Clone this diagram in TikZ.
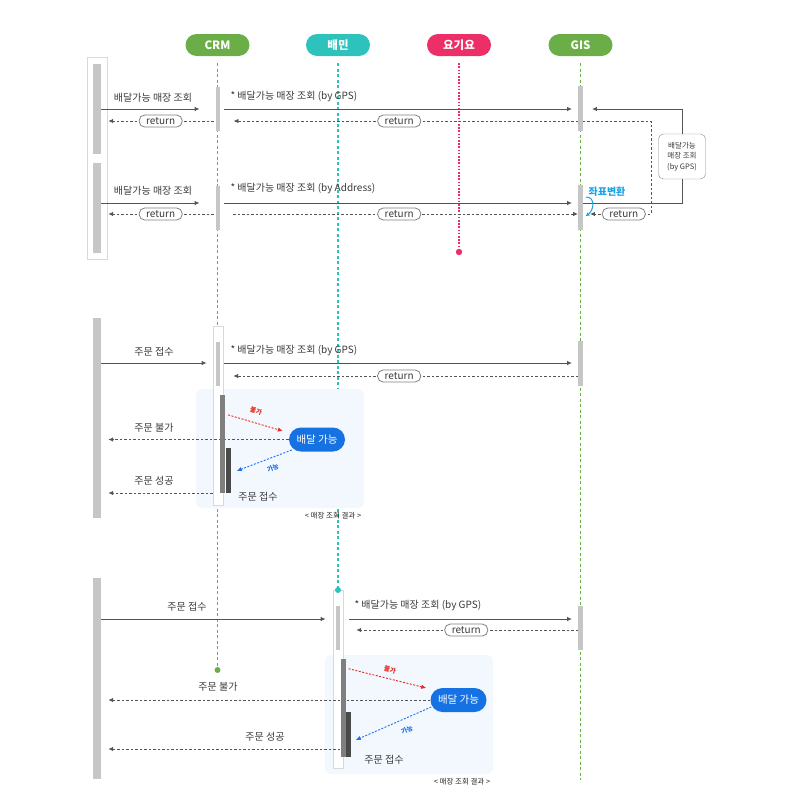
\documentclass[tikz,border=0pt]{standalone}
\usepackage{fontspec}
\setmainfont{Noto Sans CJK KR}
\usetikzlibrary{arrows.meta,positioning}
\definecolor{cCRM}{HTML}{6BAE47}
\definecolor{cBM}{HTML}{2DC3BC}
\definecolor{cYGY}{HTML}{EC2F66}
\definecolor{cGIS}{HTML}{6BAE47}
\definecolor{cLine}{HTML}{555555}
\definecolor{cText}{HTML}{3A3A3A}
\definecolor{cBar}{HTML}{C6C6C6}
\definecolor{cMid}{HTML}{7F7F7F}
\definecolor{cDeep}{HTML}{4A4A4A}
\definecolor{cFrame}{HTML}{D9D9D9}
\definecolor{cPanel}{HTML}{F3F8FE}
\definecolor{cOk}{HTML}{1672E3}
\definecolor{cNo}{HTML}{E8291F}
\definecolor{cYes}{HTML}{1F6FF0}
\definecolor{cConv}{HTML}{1CA3E6}
\tikzset{
  head/.style={rounded corners=11pt,minimum width=64pt,minimum height=22pt,inner sep=0pt,
               text=white,font=\fontsize{11.5}{13}\selectfont\bfseries},
  life/.style={line width=1pt,dash pattern=on 3pt off 2.5pt},
  callbar/.style={fill=cBar,inner sep=0pt,minimum width=8pt},
  actbar/.style={fill=cBar,inner sep=0pt,minimum width=4.5pt},
  midbar/.style={fill=cMid,inner sep=0pt,minimum width=5pt},
  deepbar/.style={fill=cDeep,inner sep=0pt,minimum width=5pt},
  hold/.style={draw=cFrame,fill=white,line width=0.7pt,inner sep=0pt},
  call/.style={-{Latex[length=5pt,width=4.5pt]},line width=0.9pt,draw=cLine},
  reply/.style={call,dash pattern=on 2.5pt off 2pt},
  pill/.style={solid,draw=cLine!75,line width=0.8pt,fill=white,rounded corners=5.5pt,
               minimum width=43pt,minimum height=12pt,inner sep=0pt,text=cText,
               font=\fontsize{10}{11}\selectfont},
  msgtxt/.style={text=cText,font=\fontsize{10}{12}\selectfont},
  sidebox/.style={draw=cLine!70,fill=white,rounded corners=5pt,minimum width=47pt,
                  minimum height=45pt,inner sep=1pt,align=center,text=cText,
                  font=\fontsize{7.5}{10.5}\selectfont},
  okpill/.style={fill=cOk,text=white,rounded corners=12pt,minimum width=56pt,
                 minimum height=24pt,inner sep=0pt,font=\fontsize{10.5}{12}\selectfont},
  nopath/.style={-{Latex[length=5pt,width=4.5pt]},line width=0.9pt,draw=cNo,
                 dash pattern=on 2pt off 1.5pt},
  yespath/.style={nopath,draw=cYes},
  tag/.style={inner sep=0pt,font=\fontsize{6.5}{7}\selectfont\bfseries},
  note/.style={text=black!85,font=\fontsize{7.5}{9}\selectfont},
  panel/.style={fill=cPanel,rounded corners=6pt,minimum width=168pt,minimum height=119pt,inner sep=0pt}
}
\begin{document}
\begin{tikzpicture}[x=1pt,y=-1pt]
  \useasboundingbox (0,0) rectangle (790,809);
  % Lifelines.
  \node[head,fill=cCRM] (hCRM) at (217.5,45) {CRM};
  \node[head,fill=cBM] (hBM) at (338,45) {배민};
  \node[head,fill=cYGY] (hYGY) at (459,45) {요기요};
  \node[head,fill=cGIS] (hGIS) at (580.5,45) {GIS};
  \coordinate (eCRM) at (217.5,670);
  \coordinate (eBM) at (338,590);
  \coordinate (eYGY) at (459,252);
  \coordinate (eGIS) at (580.5,780);
  \draw[life,draw=cCRM] ([yshift=-7pt]hCRM.south) -- (eCRM);
  \draw[life,draw=cBM,line width=1.2pt] ([yshift=-7pt]hBM.south) -- (eBM);
  \draw[life,draw=cYGY,line width=1.2pt,dash pattern=on 1.6pt off 1.6pt] ([yshift=-7pt]hYGY.south) -- (eYGY);
  \draw[life,draw=cGIS] ([yshift=-7pt]hGIS.south) -- (eGIS);
  \node[panel] (panB) at (280,448.5) {};
  \node[panel] (panC) at (409,714.5) {};

  % Top: store lookup by GPS / by address.
  \node[hold,minimum width=20pt,minimum height=202pt] (frameA) at (97,158.5) {};
  \node[callbar,minimum height=90pt] (cA1) at (97,109) {};
  \node[callbar,minimum height=90pt] (cA2) at (97,208) {};
  \node[actbar,minimum height=44pt] (crmA1) at (218,109) {};
  \node[actbar,minimum height=44pt] (crmA2) at (218,208) {};
  \node[actbar,minimum height=45pt] (gisA1) at (580.5,108.5) {};
  \node[actbar,minimum height=45pt] (gisA2) at (580.5,207.5) {};
  \node[sidebox] (boxR) at (682,156.5) {배달가능\\매장 조회\\(by GPS)};

  \node[msgtxt] (qA1) at (153,98) {배달가능 매장 조회};
  \node[msgtxt,anchor=west] (gA1) at (227,97) {* 배달가능 매장 조회 (by GPS)};
  \draw[call,shorten >=16pt] (cA1.east |- 0,109) -- (crmA1.west |- 0,109);
  \draw[reply,shorten <=2pt,shorten >=7pt] (crmA1.west |- 0,121)
    -- node[pill,pos=0.48] (rA1) {return} (cA1.east |- 0,121);
  \draw[call,shorten <=4pt,shorten >=6pt] (crmA1.east |- 0,109) -- (gisA1.west |- 0,109);
  \draw[reply,shorten >=13pt] (gisA1.west |- 0,121)
    -- node[pill,pos=0.5] (rA2) {return} (crmA1.east |- 0,121);

  \node[msgtxt] (qA2) at (153,191) {배달가능 매장 조회};
  \node[msgtxt,anchor=west] (gA2) at (227,189) {* 배달가능 매장 조회 (by Address)};
  \draw[call,shorten >=16pt] (cA2.east |- 0,203) -- (crmA2.west |- 0,203);
  \draw[reply,shorten <=2pt,shorten >=7pt] (crmA2.west |- 0,214)
    -- node[pill,pos=0.48] (rA4) {return} (cA2.east |- 0,214);
  \draw[call,shorten <=4pt,shorten >=6pt] (crmA2.east |- 0,203) -- (gisA2.west |- 0,203);
  \draw[reply,shorten <=13pt] (crmA2.east |- 0,214)
    -- node[pill,pos=0.5] (rA5) {return} (gisA2.west |- 0,214);

  % GIS converts the address and asks itself by GPS.
  \draw[line width=0.9pt,draw=cLine] (gisA2.east |- 0,203) -| (boxR.south);
  \draw[call,shorten >=9pt] (boxR.north) |- (gisA1.east |- 0,109);
  \coordinate (bend) at (651,168);
  \draw[reply,shorten >=7pt] (gisA1.east |- 0,121) -- (bend |- 0,121) -- (bend |- 0,214)
    -- node[pill,pos=0.4] (rA3) {return} (gisA2.east |- 0,214);
  \node[text=cConv,font=\fontsize{10}{11}\selectfont\bfseries] (conv) at (607,192) {좌표변환};
  \draw[-{Latex[length=4pt,width=4pt]},line width=1pt,draw=cConv,shorten <=3pt,shorten >=3pt]
    (gisA2.east |- 0,197) to[out=0,in=35,looseness=1.6] (gisA2.east |- 0,218);

  % Middle: order via CRM.
  \node[callbar,minimum height=200pt] (cB) at (97,418) {};
  \node[hold,minimum width=10pt,minimum height=179pt] (holdB) at (218,415.5) {};
  \node[actbar,minimum width=4pt,minimum height=44pt] (crmB) at (218,364) {};
  \node[actbar,minimum height=45pt] (gisB) at (580.5,363.5) {};
  \node[okpill] (okB) at (317,439.5) {배달 가능};

  \node[msgtxt] (qB1) at (154,352) {주문 접수};
  \node[msgtxt,anchor=west] (gB) at (227,351) {* 배달가능 매장 조회 (by GPS)};
  \node[msgtxt] (qB2) at (154,428) {주문 불가};
  \node[msgtxt] (qB3) at (154,481) {주문 성공};
  \node[msgtxt] (doneB) at (258,497) {주문 접수};
  \node[note] (capB) at (333,516) {< 매장 조회 결과 >};
  \node[tag,text=cNo,rotate=-17] (noB) at (256,411) {불가};
  \node[tag,text=cYes,rotate=23] (yesB) at (273,468) {가능};

  \draw[call,shorten >=6pt] (cB.east |- 0,363) -- (holdB.west |- 0,363);
  \draw[call,shorten <=4pt,shorten >=6pt] (crmB.east |- 0,363) -- (gisB.west |- 0,363);
  \draw[reply,shorten >=13pt] (gisB.west |- 0,376)
    -- node[pill,pos=0.5] (rB) {return} (crmB.east |- 0,376);
  \draw[reply,shorten >=7pt] (okB.west) -- (cB.east |- okB.west);
  \draw[reply,shorten >=7pt] (holdB.west |- 0,493) -- (cB.east |- 0,493);
  \node[midbar,minimum height=98pt] (midB) at (222.5,444) {};
  \node[deepbar,minimum height=45pt] (deepB) at (228.5,470.5) {};
  \draw[nopath,shorten <=3pt] (midB.east |- 0,414) -- ([xshift=-6pt,yshift=8.5pt]okB.west);
  \draw[yespath,shorten >=6pt] ([xshift=3pt,yshift=-10.5pt]okB.west) -- (deepB.east |- 0,473);

  % Bottom: order via 배민.
  \node[callbar,minimum height=201pt] (cC) at (97,678.5) {};
  \node[hold,minimum width=10pt,minimum height=178pt] (holdC) at (338,679) {};
  \node[actbar,minimum width=4pt,minimum height=44pt] (bmC) at (338,628) {};
  \node[actbar,minimum height=44pt] (gisC) at (580.5,628) {};
  \node[okpill] (okC) at (458.5,700) {배달 가능};

  \node[msgtxt] (qC1) at (187,607) {주문 접수};
  \node[msgtxt,anchor=west] (gC) at (351,606) {* 배달가능 매장 조회 (by GPS)};
  \node[msgtxt] (qC2) at (218,687) {주문 불가};
  \node[msgtxt] (qC3) at (265,737) {주문 성공};
  \node[msgtxt] (doneC) at (384,760) {주문 접수};
  \node[note] (capC) at (462,782) {< 매장 조회 결과 >};
  \node[tag,text=cNo,rotate=-14] (noC) at (390,670) {불가};
  \node[tag,text=cYes,rotate=25] (yesC) at (407,730) {가능};

  \draw[call,shorten >=7pt] (cC.east |- 0,619) -- (holdC.west |- 0,619);
  \draw[call,shorten <=9pt,shorten >=6pt] (bmC.east |- 0,619) -- (gisC.west |- 0,619);
  \draw[reply,shorten >=16pt] (gisC.west |- 0,630)
    -- node[pill,pos=0.47] (rC) {return} (bmC.east |- 0,630);
  \draw[reply,shorten >=7pt] (okC.west) -- (cC.east |- okC.west);
  \node[midbar,minimum height=98pt] (midC) at (343,708) {};
  \node[deepbar,minimum height=45pt] (deepC) at (348.5,734.5) {};
  \draw[reply,shorten >=7pt] (midC.west |- 0,749) -- (cC.east |- 0,749);
  \draw[nopath,shorten <=3pt] (midC.east |- 0,668) -- ([xshift=-4pt,yshift=12pt]okC.west);
  \draw[yespath,shorten >=5pt] ([xshift=1pt,yshift=-7pt]okC.west) -- (deepC.east |- 0,742);

  % Lifeline ends.
  \fill[cCRM] (eCRM) circle (3pt);
  \fill[cBM] (eBM) circle (3pt);
  \fill[cYGY] (eYGY) circle (3.2pt);
\end{tikzpicture}
\end{document}
